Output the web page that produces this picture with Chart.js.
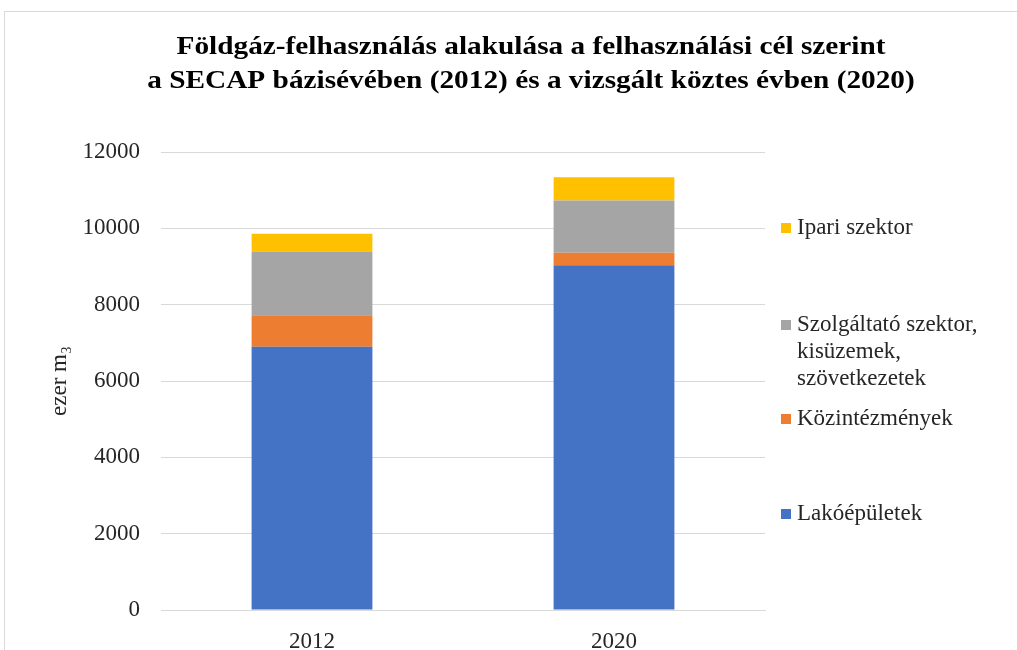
<!DOCTYPE html>
<html>
<head>
<meta charset="utf-8">
<script src="https://cdn.jsdelivr.net/npm/chart.js@4/dist/chart.umd.min.js"></script>
<style>
    html, body { margin: 0; padding: 0; background: #fff; }
    #wrap { position: relative; width: 1017px; height: 650px; overflow: hidden; }
    #frame { position: absolute; left: 4px; top: 11px; width: 1100px; height: 700px; border: 1px solid #d9d9d9; }
    canvas { position: absolute; left: 0; top: 0; }
</style>
</head>
<body>
<div id="wrap">
    <div id="frame"></div>
    <canvas id="chart" width="1017" height="650"></canvas>
</div>
<script>
const years = ["2012", "2020"];
const lakoepuletek = [6900, 9030];
const kozintezmenyek = [820, 330];
const szolgaltato = [1670, 1370];
const ipari = [465, 610];
const titleLines = [
    "Földgáz-felhasználás alakulása a felhasználási cél szerint",
    "a SECAP bázisévében (2012) és a vizsgált köztes évben (2020)",
];

const serif = "'Liberation Serif', 'Times New Roman', serif";
const textColor = "#262626";

// legend drawn by hand, Excel spreads the entries unevenly
const legendRows = [
    { label: ["Ipari szektor"], color: "#FFC000", y: 228 },
    { label: ["Szolgáltató szektor,", "kisüzemek,", "szövetkezetek"], color: "#A5A5A5", y: 325 },
    { label: ["Közintézmények"], color: "#ED7D31", y: 419 },
    { label: ["Lakóépületek"], color: "#4472C4", y: 514 },
];

const extras = {
    id: "extras",
    afterDraw(chart) {
        const ctx = chart.ctx;
        ctx.save();
        // title, stretched to the width of the original
        ctx.font = "bold 25px " + serif;
        ctx.fillStyle = "#000";
        ctx.textAlign = "center";
        ctx.textBaseline = "alphabetic";
        const sx = 709 / ctx.measureText(titleLines[0]).width;
        titleLines.forEach((line, i) => {
            ctx.save();
            ctx.translate(531, 54 + i * 34);
            ctx.scale(sx, 1);
            ctx.fillText(line, 0, 0);
            ctx.restore();
        });

        ctx.font = "23px " + serif;
        ctx.textAlign = "left";
        ctx.textBaseline = "middle";
        legendRows.forEach(row => {
            ctx.fillStyle = row.color;
            ctx.fillRect(781, row.y - 5, 10, 10);
            ctx.fillStyle = textColor;
            row.label.forEach((t, i) => ctx.fillText(t, 797, row.y + i * 27));
        });
        ctx.restore();
    },
};

new Chart(document.getElementById("chart"), {
    type: "bar",
    data: {
        labels: years,
        datasets: [
            { label: "Lakóépületek", data: lakoepuletek, backgroundColor: "#4472C4" },
            { label: "Közintézmények", data: kozintezmenyek, backgroundColor: "#ED7D31" },
            { label: "Szolgáltató szektor, kisüzemek, szövetkezetek", data: szolgaltato, backgroundColor: "#A5A5A5" },
            { label: "Ipari szektor", data: ipari, backgroundColor: "#FFC000" },
        ],
    },
    options: {
        responsive: false,
        animation: false,
        layout: { padding: { top: 152, right: 252, left: 0, bottom: 0 } },
        datasets: { bar: { barPercentage: 0.4, categoryPercentage: 1 } },
        plugins: {
            legend: { display: false },
            title: { display: false },
            tooltip: { enabled: false },
        },
        scales: {
            x: {
                stacked: true,
                grid: { display: false, drawTicks: false },
                border: { color: "#d9d9d9" },
                ticks: { color: textColor, font: { family: serif, size: 23 }, padding: 18 },
                afterFit(scale) { scale.height = 40; },
            },
            y: {
                stacked: true,
                min: 0,
                max: 12000,
                ticks: {
                    stepSize: 2000,
                    color: textColor,
                    font: { family: serif, size: 23 },
                    padding: 21,
                    callback: v => String(v),
                },
                grid: { color: "#d9d9d9", drawTicks: false },
                border: { display: false },
                title: {
                    display: true,
                    text: "ezer m₃",
                    color: textColor,
                    font: { family: serif, size: 23 },
                    padding: { top: 46, bottom: 0 },
                },
                afterFit(scale) { scale.width = 161; },
            },
        },
    },
    plugins: [extras],
});
</script>
</body>
</html>
